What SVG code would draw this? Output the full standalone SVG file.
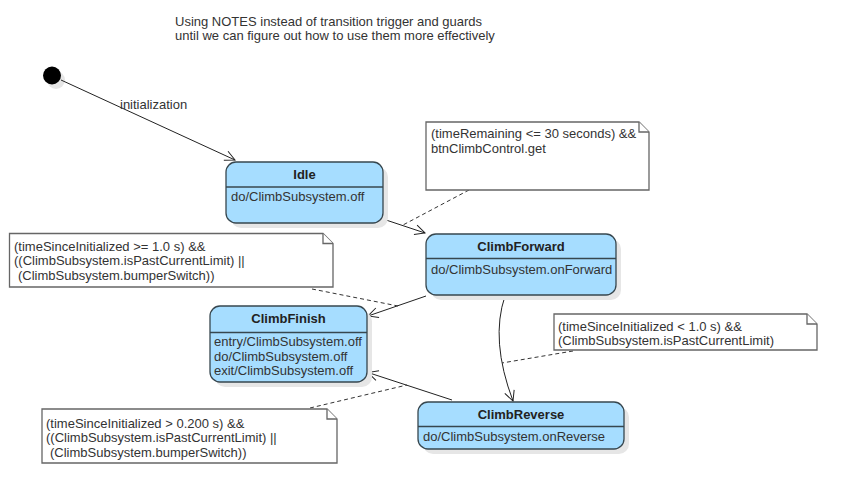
<svg xmlns="http://www.w3.org/2000/svg" width="858" height="504" viewBox="0 0 858 504">
<defs>
<style>
text{font-family:"Liberation Sans",Arial,sans-serif;font-size:13px;fill:#333}
.title{font-weight:bold;text-anchor:middle;fill:#222}
.state{fill:#a6ddff;stroke:#37474f;stroke-width:1.3}
.shadow{fill:#e6e6e6}
.div{stroke:#37474f;stroke-width:1.3}
.note{fill:#fff;stroke:#666;stroke-width:1.3}
.edge{fill:none;stroke:#222;stroke-width:1}
.dash{fill:none;stroke:#333;stroke-width:1;stroke-dasharray:4,3}
</style>
<marker id="arr" markerUnits="userSpaceOnUse" markerWidth="12" markerHeight="12" refX="11" refY="6" orient="auto">
<path d="M1,1 L11,6 L1,11" fill="none" stroke="#222" stroke-width="1"/>
</marker>
</defs>
<rect width="858" height="504" fill="#fff"/>

<g id="header">
<text x="175" y="26">Using NOTES instead of transition trigger and guards</text>
<text x="175" y="40">until we can figure out how to use them more effectively</text>
</g>

<g id="initial">
<circle cx="56" cy="80" r="9" fill="#e6e6e6"/>
<circle cx="52" cy="75.5" r="9" fill="#000"/>
</g>

<g id="connectors">
<path class="edge" d="M61 80 L235 160" marker-end="url(#arr)"/>
<path class="edge" d="M383 219 L425 233" marker-end="url(#arr)"/>
<path class="edge" d="M426 296 L368 316" marker-end="url(#arr)"/>
<path class="edge" d="M505 296 Q490 340 513 401" marker-end="url(#arr)"/>
<path class="edge" d="M452 400 L368 372.5" marker-end="url(#arr)"/>
<path class="dash" d="M469 190 L403 225"/>
<path class="dash" d="M312 289 L398 306"/>
<path class="dash" d="M573 351 L502 363"/>
<path class="dash" d="M310 408 L407 385"/>
<text x="120" y="109">initialization</text>
</g>

<g id="idle">
<rect class="shadow" x="231" y="167" width="157" height="61" rx="10"/>
<rect class="state" x="226" y="162" width="157" height="61" rx="10"/>
<line class="div" x1="226" y1="187" x2="383" y2="187"/>
<text class="title" x="304.5" y="179">Idle</text>
<text x="231" y="201">do/ClimbSubsystem.off</text>
</g>

<g id="climbForward">
<rect class="shadow" x="431" y="239" width="190" height="61" rx="10"/>
<rect class="state" x="426" y="234" width="190" height="61" rx="10"/>
<line class="div" x1="426" y1="258.5" x2="616" y2="258.5"/>
<text class="title" x="521" y="251">ClimbForward</text>
<text x="431" y="274">do/ClimbSubsystem.onForward</text>
</g>

<g id="climbFinish">
<rect class="shadow" x="215" y="311" width="157" height="76" rx="10"/>
<rect class="state" x="210" y="306" width="157" height="76" rx="10"/>
<line class="div" x1="210" y1="332.5" x2="367" y2="332.5"/>
<text class="title" x="288.5" y="323">ClimbFinish</text>
<text x="214" y="346">entry/ClimbSubsystem.off</text>
<text x="214" y="361">do/ClimbSubsystem.off</text>
<text x="214" y="375">exit/ClimbSubsystem.off</text>
</g>

<g id="climbReverse">
<rect class="shadow" x="423" y="407" width="206" height="47" rx="10"/>
<rect class="state" x="418" y="402" width="206" height="47" rx="10"/>
<line class="div" x1="418" y1="426.5" x2="624" y2="426.5"/>
<text class="title" x="521" y="419">ClimbReverse</text>
<text x="423" y="441">do/ClimbSubsystem.onReverse</text>
</g>

<g id="note1">
<path class="note" d="M426 122 H639 L649 132 V190 H426 Z"/>
<path class="note" d="M639 122 V132 H649" fill="none"/>
<text x="431" y="138">(timeRemaining &lt;= 30 seconds) &amp;&amp;</text>
<text x="431" y="153">btnClimbControl.get</text>
</g>

<g id="note2">
<path class="note" d="M9.5 233.5 H323 L333 243.5 V287 H9.5 Z"/>
<path class="note" d="M323 233.5 V243.5 H333" fill="none"/>
<text x="14" y="251">(timeSinceInitialized &gt;= 1.0 s) &amp;&amp;</text>
<text x="14" y="265">((ClimbSubsystem.isPastCurrentLimit) ||</text>
<text x="18" y="280">(ClimbSubsystem.bumperSwitch))</text>
</g>

<g id="note3">
<path class="note" d="M554 314 H807 L817 324 V350 H554 Z"/>
<path class="note" d="M807 314 V324 H817" fill="none"/>
<text x="558" y="331">(timeSinceInitialized &lt; 1.0 s) &amp;&amp;</text>
<text x="558" y="345">(ClimbSubsystem.isPastCurrentLimit)</text>
</g>

<g id="note4">
<path class="note" d="M42 409 H327 L337 419 V463 H42 Z"/>
<path class="note" d="M327 409 V419 H337" fill="none"/>
<text x="46" y="428">(timeSinceInitialized &gt; 0.200 s) &amp;&amp;</text>
<text x="46" y="442">((ClimbSubsystem.isPastCurrentLimit) ||</text>
<text x="50" y="457">(ClimbSubsystem.bumperSwitch))</text>
</g>
</svg>
